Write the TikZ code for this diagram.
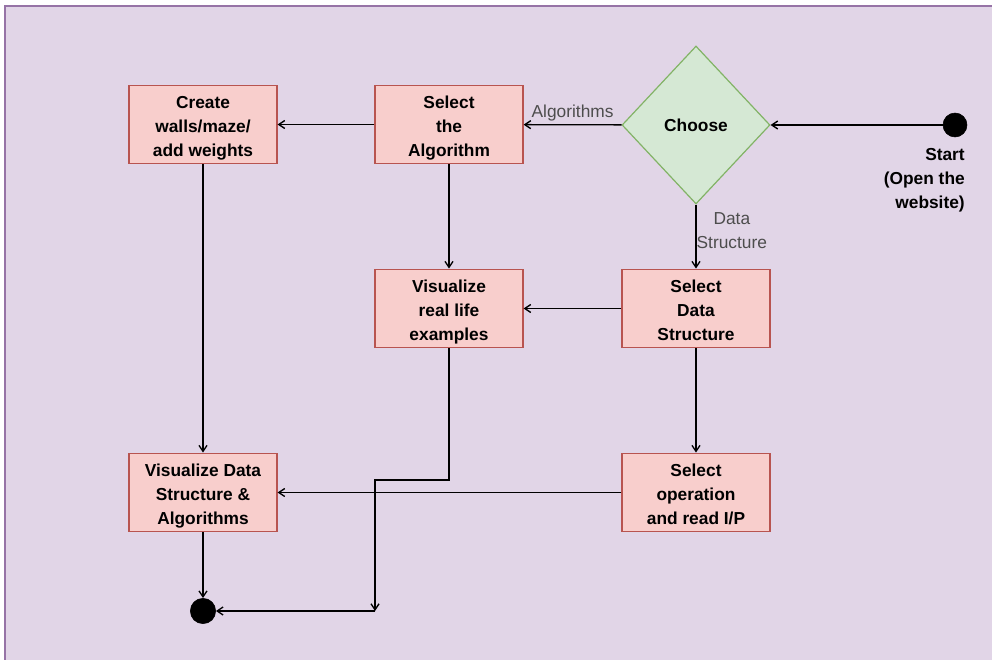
\documentclass[tikz,border=0pt]{standalone}
\usepackage{fontspec}
\setmainfont{Liberation Sans}
\usetikzlibrary{shapes.geometric,arrows.meta}
\definecolor{bgfill}{HTML}{E1D5E7}
\definecolor{bgline}{HTML}{9673A6}
\definecolor{boxfill}{HTML}{F8CECC}
\definecolor{boxline}{HTML}{B85450}
\definecolor{dfill}{HTML}{D5E8D4}
\definecolor{dline}{HTML}{82B366}
\definecolor{lbl}{HTML}{4D4D4D}
\newcommand\boxlines[1]{\raisebox{0pt}[\dimexpr\height+4.5pt\relax][\depth]{\begin{tabular}{@{}c@{}}#1\end{tabular}}}
\tikzset{
  stepbox/.style={rectangle, draw=boxline, fill=boxfill, line width=0.9pt,
    minimum width=111pt, minimum height=59pt, inner sep=0pt, align=center,
    font=\fontsize{13}{18}\selectfont\bfseries},
  choice/.style={diamond, draw=dline, fill=dfill, line width=0.9pt,
    inner sep=0pt, font=\fontsize{13}{18}\selectfont\bfseries},
  dot/.style={circle, fill=black, draw=black, minimum size=18pt, inner sep=0pt},
  edge/.style={draw=black, line width=1pt, -{Straight Barb[length=4.5pt,width=6pt]}},
  elabel/.style={text=lbl, font=\fontsize{13}{18}\selectfont, inner sep=1pt, align=center},
}
\begin{document}
\begin{tikzpicture}[x=0.75pt,y=-0.75pt]
\useasboundingbox (0,0) rectangle (992,660);
\fill[white] (0,0) rectangle (992,660);
\fill[bgfill] (5,6) rectangle (992,660);
\draw[bgline, line width=1.2pt] (5,660) -- (5,6) -- (992,6);

\node[stepbox] (create) at (203,124.5) {\boxlines{Create\\walls/maze/\\add weights}};
\node[stepbox] (selalg) at (449,124.5) {\boxlines{Select\\the\\Algorithm}};
\node[choice, minimum width=111pt, minimum height=118.5pt] (choose) at (696,125) {Choose};
\node[dot] (start) at (955,125) {};
\node[anchor=north east, align=right, inner sep=0pt, font=\fontsize{13}{18}\selectfont\bfseries] (startlbl) at (965,148) {Start\\(Open the\\website)};
\node[stepbox] (real) at (449,308.5) {\boxlines{Visualize\\real life\\examples}};
\node[stepbox] (selds) at (696,308.5) {\boxlines{Select\\Data\\Structure}};
\node[stepbox] (visds) at (203,492.5) {\boxlines{Visualize Data\\Structure \&\\Algorithms}};
\node[stepbox] (selop) at (696,492.5) {\boxlines{Select\\operation\\and read I/P}};
\node[dot, minimum size=19pt] (done) at (203,611) {};
\coordinate (j1) at (449,480);
\coordinate (j2) at (375,480);
\coordinate (j3) at (375,611);

\draw[edge] (start) -- (choose);
\draw[edge] (choose) -- node[elabel, above, pos=0.5, yshift=1pt] (alglbl) {Algorithms} (selalg);
\draw[edge] (choose) -- node[elabel, right, pos=0.5, xshift=-1pt, yshift=4.5pt] (dslbl) {Data\\Structure} (selds);
\draw[edge] (selalg) -- (create);
\draw[edge] (selalg) -- (real);
\draw[edge] (selds) -- (real);
\draw[edge] (selds) -- (selop);
\draw[edge] (create) -- (visds);
\draw[edge] (selop) -- (visds);
\draw[edge] (visds) -- (done);
\draw[edge] (real.south) -- (j1) -- (j2) -- (j3);
\draw[edge] (j3) -- (done);
\end{tikzpicture}
\end{document}
